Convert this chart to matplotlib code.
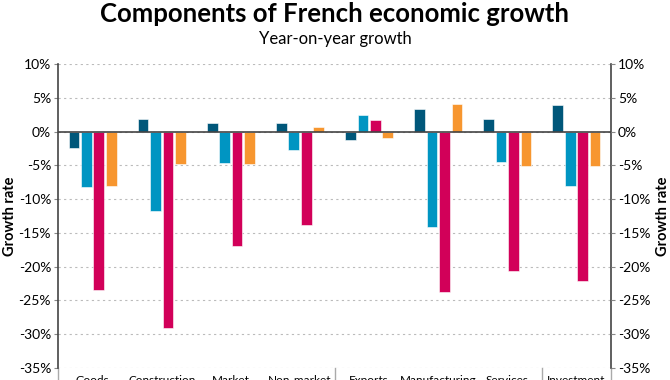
import numpy as np
import matplotlib.pyplot as plt
import matplotlib.transforms as mtransforms
from matplotlib.ticker import FuncFormatter, MultipleLocator

plt.rcParams['font.family'] = ['Lato', 'DejaVu Sans']

categories = ["Goods", "Construction", "Market\nservices", "Non-market\nservices",
              "Exports", "Manufacturing", "Services", "Investment"]
group_breaks = [3.5, 6.5]

series_names = ["2020 Q1", "2020 Q2", "2020 Q3", "2020 Q4"]
series_values = [
    [-2.4, 1.9, 1.2, 1.2, -1.2, 3.3, 1.8, 3.9],
    [-8.2, -11.8, -4.7, -2.7, 2.5, -14.2, -4.5, -8.0],
    [-23.4, -29.1, -17.0, -13.8, 1.7, -23.7, -20.6, -22.1],
    [-8.1, -4.8, -4.8, 0.7, -0.9, 4.1, -5.1, -5.1],
]
colors = ["#00577a", "#0095c2", "#d20059", "#f7962f"]

fig = plt.figure(figsize=(6.7, 3.8), dpi=100)
ax = fig.add_axes([0.0866, 0.0316, 0.8254, 0.80])

x = np.arange(len(categories))
width = 0.155
step = 0.18
for i, (vals, col) in enumerate(zip(series_values, colors)):
    ax.bar(x + (i - 1.5) * step, vals, width, color=col, edgecolor="white",
           linewidth=0.4, zorder=3, label=series_names[i])

ax.set_xlim(-0.5, len(categories) - 0.5)
ax.set_ylim(-35, 10)
ax.yaxis.set_major_locator(MultipleLocator(5))
pct = FuncFormatter(lambda v, p: f"{v:.0f}%")
ax.yaxis.set_major_formatter(pct)
ax.grid(axis="y", linestyle=(0, (2, 3)), color="#bbbbbb", linewidth=0.8, zorder=0)
ax.axhline(0, color="#444444", linewidth=1.2, zorder=4)

for s in ["top", "bottom"]:
    ax.spines[s].set_visible(False)
for s in ["left", "right"]:
    ax.spines[s].set_color("#444444")
    ax.spines[s].set_linewidth(1.2)

ax.tick_params(axis="y", labelsize=10, length=3, color="#888888", pad=2)
ax.set_xticks(x)
ax.set_xticklabels(categories, fontsize=8.5, linespacing=1.0)
ax.tick_params(axis="x", length=0, pad=5)
ax.set_ylabel("Growth rate", fontsize=10.5, fontweight="bold", labelpad=1)

ax2 = ax.twinx()
ax2.set_ylim(ax.get_ylim())
ax2.yaxis.set_major_locator(MultipleLocator(5))
ax2.yaxis.set_major_formatter(pct)
ax2.tick_params(axis="y", labelsize=10, length=3, color="#888888", pad=2)
ax2.set_ylabel("Growth rate", fontsize=10.5, fontweight="bold", labelpad=4)
for s in ["top", "bottom", "left", "right"]:
    ax2.spines[s].set_visible(False)

# category group separators below the axis
trans = mtransforms.blended_transform_factory(ax.transData, ax.transAxes)
for b in [-0.5] + group_breaks + [len(categories) - 0.5]:
    ax.plot([b, b], [0, -0.06], transform=trans, color="#aaaaaa",
            linewidth=1, clip_on=False)

fig.text(0.5, 0.962, "Components of French economic growth", ha="center",
         va="center", fontsize=18.5, fontweight="bold")
fig.text(0.5, 0.898, "Year-on-year growth", ha="center", va="center",
         fontsize=12)

fig.savefig("out.png", dpi=100)
